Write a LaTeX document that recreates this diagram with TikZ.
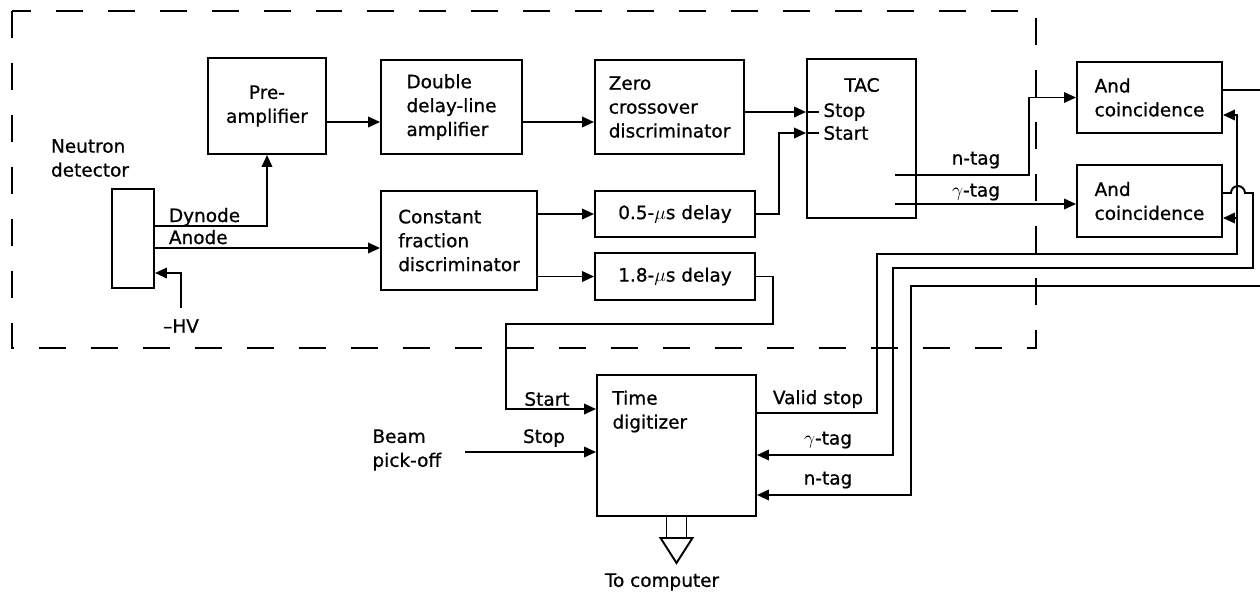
\documentclass[tikz,border=0pt]{standalone}
\usepackage{fontspec}
\setmainfont{DejaVu Sans}[FakeBold=0.8]
\usetikzlibrary{arrows.meta}

\begin{document}
\begin{tikzpicture}[x=0.02cm,y=-0.02cm,
  font=\fontsize{10.5}{13.6}\selectfont,
  line width=1.1pt,
  block/.style={draw,inner sep=0pt,align=left},
  lab/.style={inner sep=2pt,align=left},
  arr/.style={-{Triangle[length=0.24cm,width=0.21cm]}},
  frame/.style={line width=1.4pt,dash pattern=on 0.54cm off 0.5cm}]
  \clip (0,0) rectangle (1260,593);
  % detector electronics
  \draw[frame] (12,11) rectangle (1036,348);
  \node[block,minimum width=0.84cm,minimum height=1.98cm] (det) at (133,238.5) {};
  \node[lab] (detlab) at (90,158) {Neutron\\detector};
  \node[block,align=center,minimum width=2.36cm,minimum height=1.92cm] (pre) at (267,106) {Pre-\\amplifier};
  \node[block,minimum width=2.82cm,minimum height=1.88cm] (dbl) at (451.5,107) {Double\\delay-line\\amplifier};
  \node[block,minimum width=2.98cm,minimum height=1.88cm] (zero) at (669.5,107) {Zero\\crossover\\discriminator};
  \node[block,minimum width=3.12cm,minimum height=1.98cm] (cfd) at (459,240.5) {Constant\\fraction\\discriminator};
  \node[block,minimum width=3.2cm,minimum height=0.93cm] (dhalf) at (675,214) {0.5-$\mu$s delay};
  \node[block,minimum width=3.2cm,minimum height=0.93cm] (dlong) at (675,276.5) {1.8-$\mu$s delay};
  \node[block,minimum width=2.18cm,minimum height=3.18cm] (tac) at (861.5,138.5) {};
  \node[lab] (taclab) at (862,85) {TAC};
  \node[lab,anchor=west] (tstop) at (819,112) {Stop};
  \node[lab,anchor=west] (tstart) at (819,133) {Start};
  \node[block,minimum width=2.9cm,minimum height=1.43cm] (andn) at (1149.5,97.5) {And\\coincidence};
  \node[block,minimum width=2.9cm,minimum height=1.43cm] (andg) at (1149.5,201) {And\\coincidence};
  % digitizer
  \node[block,minimum width=3.18cm,minimum height=2.82cm] (tdc) at (676.5,445.5) {};
  \node[lab,anchor=west] (tdclab) at (608,411.5) {Time\\digitizer};
  \node[lab,anchor=west] (beam) at (368,450) {Beam\\pick-off};
  \node[lab] (comp) at (662,582) {To computer};

  % detector outputs
  \draw[arr] ([yshift=0.25cm]det.east) -| (pre.south);
  \node[lab,anchor=base west,inner sep=0pt] (dyn) at (168,222) {Dynode};
  \path ([yshift=-0.19cm]det.east) coordinate (anodeout);
  \draw[arr] (anodeout) -- (anodeout -| cfd.west);
  \node[lab,anchor=base west,inner sep=0pt] (ano) at (168,244) {Anode};
  \node[lab] (hv) at (181,326) {--HV};
  \draw[arr] ([yshift=0.14cm]hv.north) |- ([yshift=-0.69cm]det.east);

  % timing chain
  \path ([yshift=-0.32cm]pre.east) coordinate (preout);
  \draw[arr] (preout) -- (preout -| dbl.west);
  \path ([yshift=-0.3cm]dbl.east) coordinate (dblout);
  \draw[arr] (dblout) -- (dblout -| zero.west);
  \foreach \d in {dhalf,dlong}
    \draw[arr] (\d.west -| cfd.east) -- (\d.west);
  \draw[arr] (zero.east |- tstop) -- (tac.west |- tstop);
  \draw[arr] (dhalf.east) -- ++(23,0) |- (tac.west |- tstart);
  \foreach \t in {tstop,tstart}
    \draw (tac.west |- \t) -- (\t.west);

  % TAC outputs
  \coordinate (tacn) at (895,175);
  \coordinate (tacg) at (895,204);
  \draw[arr] (tacn) -- ++(134,0) |- (andn.west);
  \draw[arr] (tacg) -- (tacg -| andg.west);
  \node[lab] (ntag) at (976,160) {n-tag};
  \node[lab] (gtag) at (976,192) {$\gamma$-tag};

  % digitizer inputs
  \coordinate (sbend) at (506,324);
  \draw[arr] (dlong.east) -- ++(17,0) |- (sbend) |- ([yshift=0.73cm]tdc.west);
  \node[lab] (dstart) at (547,399) {Start};
  \coordinate (beamin) at (465,452);
  \draw[arr] (beamin) -- (beamin -| tdc.west);
  \node[lab] (dstop) at (544,438) {Stop};

  % valid stop and tags back to digitizer
  \coordinate (vbend) at (877,254);
  \coordinate (vrise) at (1237,254);
  \draw[arr] ([yshift=0.65cm]tdc.east) -| (vbend) -- (vrise) |- ([yshift=-0.35cm]andn.east);
  \path ([yshift=-0.34cm]andg.east) coordinate (andgin);
  \draw[arr] (andgin -| vrise) -- (andgin);
  \node[lab] (valid) at (818,399) {Valid stop};
  \coordinate (gbend) at (893,268);
  \draw[arr] ([yshift=0.16cm]andg.east) -- ++(8,0) arc[start angle=180,end angle=0,radius=0.14cm]
    -- ++(8,0) |- (gbend) |- ([yshift=-0.19cm]tdc.east);
  \coordinate (nbend) at (911,286);
  \draw[arr] ([yshift=0.15cm]andn.east) -- ++(60,0) |- (nbend) |- ([yshift=-0.99cm]tdc.east);
  \node[lab] (dgtag) at (828,440) {$\gamma$-tag};
  \node[lab] (dntag) at (828,480) {n-tag};

  % output to computer
  \draw (tdc.south) ++(-10,0) -- ++(0,21) ++(20,0) -- ++(0,-21);
  \draw (tdc.south) ++(-16,21) -- ++(32,0) -- ++(-16,25) -- cycle;
\end{tikzpicture}
\end{document}
